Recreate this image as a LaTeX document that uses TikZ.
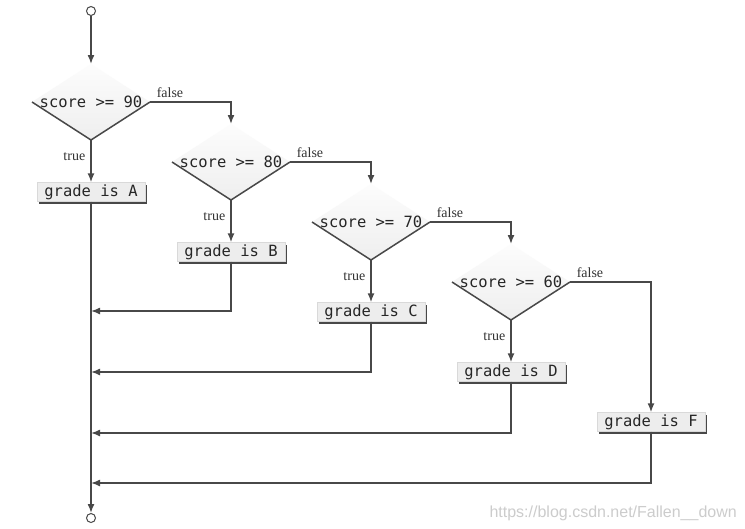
\documentclass[tikz,border=0pt]{standalone}
\usepackage{fontspec}
\setmainfont{Liberation Serif}
\newfontfamily\codefont{DejaVu Sans Mono}
\newfontfamily\markfont{Liberation Sans}
\usetikzlibrary{arrows.meta,shapes.geometric,shadows}
\definecolor{ink}{RGB}{72,72,72}
\tikzset{
  flow/.style={draw=ink, line width=1.5pt, -{Latex[length=9pt,width=7pt]}},
  edgeline/.style={draw=ink, line width=1.5pt},
  cond/.style={shape=diamond, minimum width=118pt, minimum height=76pt, inner sep=0pt, outer sep=0pt,
    top color=gray!2, bottom color=gray!13, text=black!85, font=\codefont\fontsize{15.5}{16}\selectfont},
  grade/.style={rectangle, minimum width=108pt, minimum height=19pt, inner sep=0pt, fill=gray!14, draw=gray!30,
    drop shadow={shadow xshift=2pt, shadow yshift=-2pt, fill=ink, opacity=1},
    text=black!85, font=\codefont\fontsize{15.5}{16}\selectfont},
  lbl/.style={font=\fontsize{14}{15}\selectfont, inner sep=1pt, text=black!80},
  term/.style={circle, draw=ink, line width=1pt, fill=white, minimum size=9pt, inner sep=0pt}
}
\begin{document}
\begin{tikzpicture}[x=1pt,y=-1pt]
\useasboundingbox[fill=white] (0,0) rectangle (745,528);

\node[term] (start) at (91,11) {};
\node[term] (stop) at (91,518) {};

\node[cond] (c90) at (91,102) {\makebox[0pt]{score >= 90}};
\node[cond] (c80) at (231,162) {\makebox[0pt]{score >= 80}};
\node[cond] (c70) at (371,222) {\makebox[0pt]{score >= 70}};
\node[cond] (c60) at (511,282) {\makebox[0pt]{score >= 60}};
\draw[edgeline] (c90.west) -- (c90.south) -- (c90.east);
\draw[edgeline] (c80.west) -- (c80.south) -- (c80.east);
\draw[edgeline] (c70.west) -- (c70.south) -- (c70.east);
\draw[edgeline] (c60.west) -- (c60.south) -- (c60.east);

\node[grade] (gA) at (91,192) {grade is A};
\node[grade] (gB) at (231,252) {grade is B};
\node[grade] (gC) at (371,312) {grade is C};
\node[grade] (gD) at (511,372) {grade is D};
\node[grade] (gF) at (651,422) {grade is F};

\draw[flow] (start) -- (c90.north);
\draw[flow] (c90.south) -- (gA.north) node[lbl, pos=0.4, anchor=east, xshift=-4pt] (t90) {true};
\draw[flow] (c80.south) -- (gB.north) node[lbl, pos=0.4, anchor=east, xshift=-4pt] (t80) {true};
\draw[flow] (c70.south) -- (gC.north) node[lbl, pos=0.4, anchor=east, xshift=-4pt] (t70) {true};
\draw[flow] (c60.south) -- (gD.north) node[lbl, pos=0.4, anchor=east, xshift=-4pt] (t60) {true};

\draw[flow] (c90.east) -| (c80.north) node[lbl, pos=0, anchor=south west, xshift=5pt, yshift=3pt] (f90) {false};
\draw[flow] (c80.east) -| (c70.north) node[lbl, pos=0, anchor=south west, xshift=5pt, yshift=3pt] (f80) {false};
\draw[flow] (c70.east) -| (c60.north) node[lbl, pos=0, anchor=south west, xshift=5pt, yshift=3pt] (f70) {false};
\draw[flow] (c60.east) -| (gF.north) node[lbl, pos=0, anchor=south west, xshift=5pt, yshift=3pt] (f60) {false};

\draw[flow] (gA.south) -- (stop.north);
\coordinate (j1) at (91,311);
\coordinate (j2) at (91,372);
\coordinate (j3) at (91,433);
\coordinate (j4) at (91,483);
\draw[flow] (gB.south) |- (j1);
\draw[flow] (gC.south) |- (j2);
\draw[flow] (gD.south) |- (j3);
\draw[flow] (gF.south) |- (j4);

\node[font=\markfont\fontsize{16}{16}\selectfont, text=gray!40, anchor=base east, inner sep=0pt] (mark) at (737,517) {https://blog.csdn.net/Fallen\_\_down};
\end{tikzpicture}
\end{document}
